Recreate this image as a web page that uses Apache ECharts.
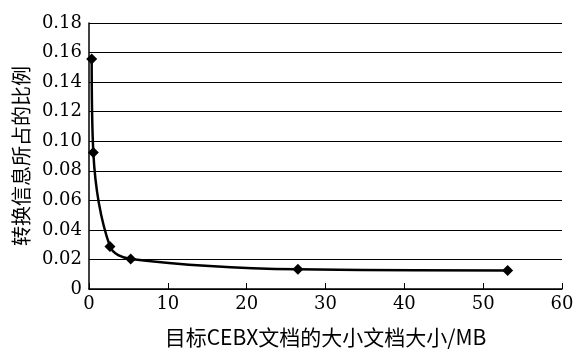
<!DOCTYPE html>
<html><head><meta charset="utf-8">
<script src="https://cdn.jsdelivr.net/npm/echarts@6/dist/echarts.min.js"></script>
<style>html,body{margin:0;padding:0;background:#fff}#c{width:574px;height:349px}</style>
</head><body><div id="c"></div>
<script>
const xValues = [0.34, 0.55, 2.66, 5.29, 26.5, 53.1];
const yValues = [0.1556, 0.0924, 0.0288, 0.0203, 0.0133, 0.0126];
const xName = '目标CEBX文档的大小文档大小/MB';
const yName = '转换信息所占的比例';
const serif = "'DejaVu Serif', 'Liberation Serif', serif";
const cjk = "'Noto Sans CJK SC', sans-serif";
const chart = echarts.init(document.getElementById('c'));
chart.setOption({
  animation: false,
  grid: {left: 89, right: 12, top: 23, bottom: 60, outerBoundsMode: 'none', containLabel: false},
  xAxis: {
    type: 'value', min: 0, max: 60, interval: 10,
    name: xName, nameLocation: 'middle', nameGap: 38,
    nameTextStyle: {fontFamily: cjk, fontSize: 21, color: '#000'},
    axisLine: {show: true, lineStyle: {color: '#000', width: 1.5}},
    axisTick: {show: true, inside: true, length: 6, lineStyle: {color: '#000'}},
    axisLabel: {fontFamily: serif, fontSize: 18, color: '#000', margin: 6},
    splitLine: {show: false}
  },
  yAxis: {
    type: 'value', min: 0, max: 0.18, interval: 0.02,
    name: yName, nameLocation: 'middle', nameGap: 57, nameRotate: 90,
    nameTextStyle: {fontFamily: cjk, fontSize: 20, color: '#000'},
    axisLine: {show: true, lineStyle: {color: '#000', width: 1.5}},
    axisTick: {show: false},
    axisLabel: {fontFamily: serif, fontSize: 18, color: '#000', margin: 7,
      formatter: function (v) { return v === 0 ? '0' : v.toFixed(2); }},
    splitLine: {show: true, lineStyle: {color: '#000', width: 1}}
  },
  series: [{
    type: 'line',
    data: xValues.map(function (x, i) { return [x, yValues[i]]; }),
    smooth: 0.35,
    symbol: 'diamond', symbolSize: 11,
    itemStyle: {color: '#000'},
    lineStyle: {color: '#000', width: 2.5}
  }]
});
</script></body></html>
